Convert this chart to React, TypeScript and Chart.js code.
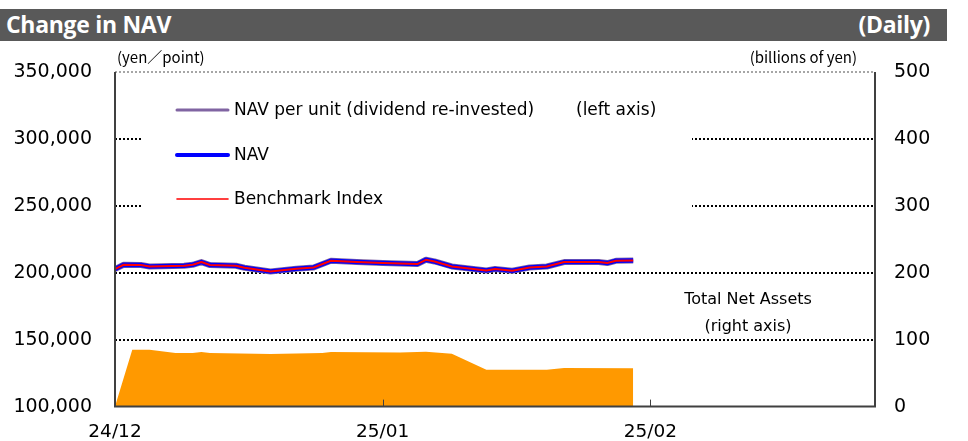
import React, { useEffect, useRef } from "react";
import { Chart, registerables } from "chart.js";

Chart.register(...registerables);

// ---- data ----
const navDates = [
  "2024-12-01", "2024-12-02", "2024-12-04", "2024-12-05", "2024-12-09", "2024-12-10",
  "2024-12-11", "2024-12-12", "2024-12-15", "2024-12-16", "2024-12-19", "2024-12-22",
  "2024-12-24", "2024-12-26", "2024-12-29", "2025-01-01", "2025-01-05", "2025-01-06",
  "2025-01-07", "2025-01-09", "2025-01-13", "2025-01-14", "2025-01-16", "2025-01-18",
  "2025-01-20", "2025-01-22", "2025-01-26", "2025-01-27", "2025-01-28", "2025-01-30",
];
const navPerUnitValues = [
  202760, 205970, 205750, 204700, 205220, 205970, 207990, 205750, 205220, 203730,
  200970, 202990, 203960, 208950, 207990, 207240, 206490, 209700, 208430, 204700,
  201720, 202760, 201490, 203960, 204700, 207990, 207990, 207240, 208950, 209180,
];
const navValues = [
  202760, 205970, 205750, 204700, 205220, 205970, 207990, 205750, 205220, 203730,
  200970, 202990, 203960, 208950, 207990, 207240, 206490, 209700, 208430, 204700,
  201720, 202760, 201490, 203960, 204700, 207990, 207990, 207240, 208950, 209180,
];
const benchmarkValues = [
  202760, 205970, 205750, 204700, 205220, 205970, 207990, 205750, 205220, 203730,
  200970, 202990, 203960, 208950, 207990, 207240, 206490, 209700, 208430, 204700,
  201720, 202760, 201490, 203960, 204700, 207990, 207990, 207240, 208950, 209180,
];
const tnaDates = [
  "2024-12-01", "2024-12-03", "2024-12-05", "2024-12-08", "2024-12-10", "2024-12-11",
  "2024-12-12", "2024-12-19", "2024-12-25", "2024-12-26", "2025-01-03", "2025-01-06",
  "2025-01-09", "2025-01-13", "2025-01-20", "2025-01-22", "2025-01-30",
];
const tnaValues = [0, 85.1, 85.1, 80.1, 80.1, 81.6, 80.1, 78.6, 80.1, 81.6, 81, 82.1, 79.1, 55.2, 55.2, 57.8, 57.2];

const seriesLabels = ["NAV per unit (dividend re-invested)", "NAV", "Benchmark Index", "Total Net Assets"];
const xTickDates = ["2024-12-01", "2025-01-01", "2025-02-01"];
const xTickLabels = ["24/12", "25/01", "25/02"];
const axisStartDate = "2024-12-01";
const axisEndDate = "2025-02-27";
const leftTicks = [100000, 150000, 200000, 250000, 300000, 350000];
const rightTicks = [0, 100, 200, 300, 400, 500];

const dayIndex = (s: string) => {
  const [y, m, d] = s.split("-").map(Number);
  const [y0, m0, d0] = axisStartDate.split("-").map(Number);
  return Math.round((Date.UTC(y, m - 1, d) - Date.UTC(y0, m0 - 1, d0)) / 86400000);
};

const FONT = "'DejaVu Sans', Verdana, sans-serif";

const decorPlugin = {
  id: "decor",
  beforeDatasetsDraw(chart: any) {
    const { ctx, chartArea: a, scales } = chart;
    const y = scales.y;
    ctx.save();
    ctx.lineWidth = 2;
    ctx.setLineDash([2, 2]);
    ctx.strokeStyle = "#000";
    for (const v of leftTicks.slice(1, -1)) {
      const py = Math.round(y.getPixelForValue(v));
      ctx.beginPath();
      ctx.moveTo(a.left, py);
      ctx.lineTo(a.right, py);
      ctx.stroke();
    }
    ctx.strokeStyle = "#A6A6A6";
    const top = Math.round(y.getPixelForValue(leftTicks[leftTicks.length - 1]));
    ctx.beginPath();
    ctx.moveTo(a.left, top);
    ctx.lineTo(a.right, top);
    ctx.stroke();
    ctx.setLineDash([]);

    // legend box
    ctx.fillStyle = "#fff";
    ctx.fillRect(143, 86, 549, 136);
    const ds = chart.data.datasets;
    const rows = [
      { i: 0, y: 110, w: 3 },
      { i: 1, y: 155, w: 4 },
      { i: 2, y: 199, w: 1.6 },
    ];
    ctx.font = `17px ${FONT}`;
    ctx.textBaseline = "middle";
    ctx.textAlign = "left";
    for (const r of rows) {
      ctx.strokeStyle = ds[r.i].borderColor;
      ctx.lineWidth = r.w;
      ctx.lineCap = "round";
      ctx.beginPath();
      ctx.moveTo(177, r.y);
      ctx.lineTo(228, r.y);
      ctx.stroke();
      ctx.fillStyle = "#000";
      ctx.fillText(ds[r.i].label, 234, r.y + 1);
    }
    ctx.fillText("(left axis)", 576, 111);

    ctx.font = `16px ${FONT}`;
    ctx.textAlign = "center";
    ctx.fillText(ds[3].label, 748, 300);
    ctx.fillText("(right axis)", 748, 327);
    ctx.restore();
  },
  afterDatasetsDraw(chart: any) {
    const { ctx, chartArea: a, scales } = chart;
    ctx.save();
    ctx.strokeStyle = "#404040";
    ctx.lineWidth = 2;
    ctx.beginPath();
    ctx.moveTo(a.left, a.top);
    ctx.lineTo(a.left, a.bottom);
    ctx.lineTo(a.right, a.bottom);
    ctx.lineTo(a.right, a.top);
    ctx.stroke();
    ctx.lineWidth = 1;
    for (const d of xTickDates.slice(1)) {
      const px = Math.round(scales.x.getPixelForValue(dayIndex(d))) + 0.5;
      ctx.beginPath();
      ctx.moveTo(px, a.bottom);
      ctx.lineTo(px, a.bottom - 7);
      ctx.stroke();
    }
    ctx.restore();
  },
};

export default function App() {
  const ref = useRef<HTMLCanvasElement>(null);
  useEffect(() => {
    if (!ref.current) return;
    const navPts = (vals: number[]) => navDates.map((d, i) => ({ x: dayIndex(d), y: vals[i] }));
    const chart = new Chart(ref.current, {
      type: "line",
      data: {
        datasets: [
          {
            label: seriesLabels[0],
            data: navPts(navPerUnitValues),
            borderColor: "#8064A2",
            borderWidth: 6,
            pointRadius: 0,
            yAxisID: "y",
            order: 2,
            borderJoinStyle: "round",
          },
          {
            label: seriesLabels[1],
            data: navPts(navValues),
            borderColor: "#0000FF",
            borderWidth: 4.5,
            pointRadius: 0,
            yAxisID: "y",
            order: 1,
            borderJoinStyle: "round",
          },
          {
            label: seriesLabels[2],
            data: navPts(benchmarkValues),
            borderColor: "#FF0000",
            borderWidth: 2,
            pointRadius: 0,
            yAxisID: "y",
            order: 0,
            borderJoinStyle: "round",
          },
          {
            label: seriesLabels[3],
            data: tnaDates.map((d, i) => ({ x: dayIndex(d), y: tnaValues[i] })),
            borderColor: "rgba(0,0,0,0)",
            borderWidth: 0,
            backgroundColor: "#FF9900",
            fill: "origin",
            pointRadius: 0,
            yAxisID: "y2",
            order: 3,
          },
        ],
      } as any,
      options: {
        animation: false,
        responsive: false,
        maintainAspectRatio: false,
        layout: { padding: { top: 72, left: 0, right: 0, bottom: 0 } },
        plugins: { legend: { display: false }, tooltip: { enabled: false } },
        scales: {
          x: {
            type: "linear",
            min: dayIndex(axisStartDate),
            max: dayIndex(axisEndDate),
            grid: { display: false, drawTicks: false },
            border: { display: false },
            afterBuildTicks: (s: any) => {
              s.ticks = xTickDates.map((d) => ({ value: dayIndex(d) }));
            },
            afterFit: (s: any) => {
              s.height = 34;
            },
            ticks: {
              autoSkip: false,
              maxRotation: 0,
              padding: 14,
              color: "#000",
              font: { family: FONT, size: 18.5 },
              callback: (v: any) => {
                const i = xTickDates.findIndex((d) => dayIndex(d) === v);
                return i >= 0 ? xTickLabels[i] : "";
              },
            },
          },
          y: {
            position: "left",
            min: leftTicks[0],
            max: leftTicks[leftTicks.length - 1],
            grid: { display: false, drawTicks: false },
            border: { display: false },
            afterBuildTicks: (s: any) => {
              s.ticks = leftTicks.map((v) => ({ value: v }));
            },
            afterFit: (s: any) => {
              s.width = 115;
            },
            ticks: {
              padding: 23,
              color: "#000",
              font: { family: FONT, size: 19 },
              callback: (v: any) => Number(v).toLocaleString("en-US"),
            },
          },
          y2: {
            position: "right",
            min: rightTicks[0],
            max: rightTicks[rightTicks.length - 1],
            grid: { display: false, drawTicks: false },
            border: { display: false },
            afterBuildTicks: (s: any) => {
              s.ticks = rightTicks.map((v) => ({ value: v }));
            },
            afterFit: (s: any) => {
              s.width = 93;
            },
            ticks: {
              padding: 19,
              color: "#000",
              font: { family: FONT, size: 19 },
              callback: (v: any) => String(v),
            },
          },
        },
      } as any,
      plugins: [decorPlugin],
    });
    return () => chart.destroy();
  }, []);

  return (
    <div style={{ position: "absolute", left: 0, top: 0, width: 968, height: 441, overflow: "hidden", background: "#fff" }}>
      <div
        style={{
          position: "absolute",
          left: 0,
          top: 9,
          width: 947,
          height: 32,
          background: "#595959",
          color: "#fff",
          fontFamily: "'Open Sans', 'Noto Sans', sans-serif",
          fontWeight: 700,
          fontSize: 23,
          lineHeight: "31px",
          letterSpacing: "-0.3px",
        }}
      >
        <span style={{ position: "absolute", left: 6 }}>Change in NAV</span>
        <span style={{ position: "absolute", right: 17 }}>(Daily)</span>
      </div>
      <canvas ref={ref} width={968} height={441} style={{ position: "absolute", left: 0, top: 0, width: 968, height: 441 }} />
      <div style={{ position: "absolute", left: 117, top: 47, fontFamily: "'Noto Sans CJK JP', sans-serif", fontSize: 15, lineHeight: "20px", color: "#000" }}>
        (yen／point)
      </div>
      <div style={{ position: "absolute", right: 968 - 857, top: 47, fontFamily: "'Noto Sans CJK JP', sans-serif", fontSize: 15, lineHeight: "20px", color: "#000" }}>
        (billions of yen)
      </div>
    </div>
  );
}
